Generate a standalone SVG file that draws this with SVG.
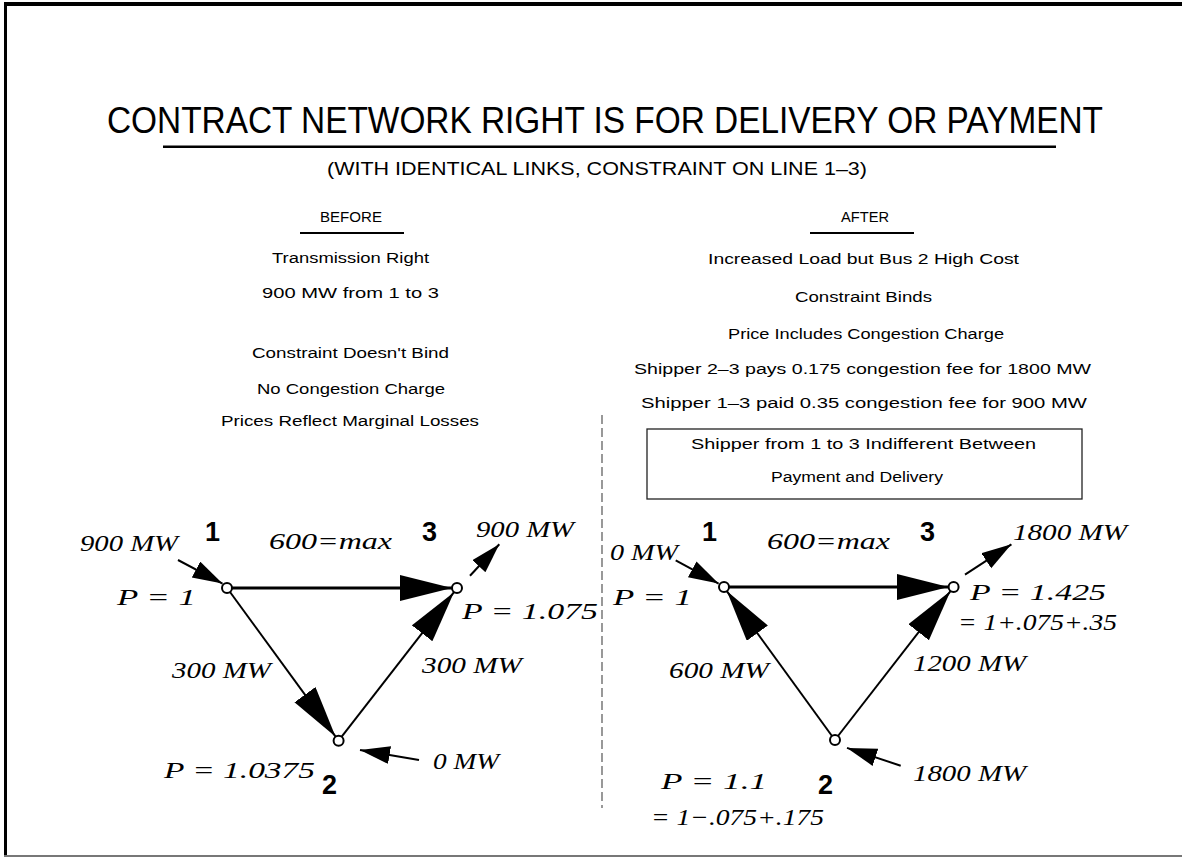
<svg xmlns="http://www.w3.org/2000/svg" width="1182" height="857" viewBox="0 0 1182 857">
<style>
.bg{fill:#fff}
.title{font-family:"Liberation Sans",Arial,sans-serif;font-size:36px;fill:#000}
.sub{font-family:"Liberation Sans",Arial,sans-serif;font-size:19px;fill:#000}
.body{font-family:"Liberation Sans",Arial,sans-serif;font-size:15.5px;fill:#000;text-anchor:start}
.lbl{font-family:"Liberation Serif","Times New Roman",serif;font-style:italic;font-size:23px;fill:#000}
.num{font-family:"Liberation Sans",Arial,sans-serif;font-weight:bold;font-size:27px;fill:#000}
.ln{stroke:#000;stroke-width:2;fill:none}
.thick{stroke:#000;stroke-width:3;fill:none}
.node{fill:#fff;stroke:#000;stroke-width:2}
.dash{stroke:#555;stroke-width:1.2;stroke-dasharray:9 4;fill:none}
</style>
<defs>
<marker id="big" markerUnits="userSpaceOnUse" markerWidth="54" markerHeight="28" refX="52" refY="13" orient="auto">
<path d="M0,0 L52,13 L0,26 Z" fill="#000"/>
</marker>
<marker id="small" markerUnits="userSpaceOnUse" markerWidth="32" markerHeight="20" refX="30" refY="9" orient="auto">
<path d="M0,0 L30,9 L0,18 Z" fill="#000"/>
</marker>
</defs>
<rect class="bg" x="0" y="0" width="1182" height="857"/>
<g id="frame">
<rect x="4" y="2" width="1178" height="4" fill="#000"/>
<rect x="4" y="2" width="3" height="854" fill="#000"/>
<rect x="4" y="855" width="1178" height="2" fill="#777"/>
</g>
<g id="header">
<text class="title" x="107" y="133" textLength="996" lengthAdjust="spacingAndGlyphs">CONTRACT NETWORK RIGHT IS FOR DELIVERY OR PAYMENT</text>
<rect x="163" y="145.5" width="893" height="2.5" fill="#000"/>
<text class="sub" x="327" y="175" textLength="540" lengthAdjust="spacingAndGlyphs">(WITH IDENTICAL LINKS, CONSTRAINT ON LINE 1–3)</text>
</g>
<g id="before-text">
<text class="body" x="320" y="222" textLength="62" lengthAdjust="spacingAndGlyphs">BEFORE</text>
<line class="ln" x1="300" y1="233" x2="404" y2="233" stroke-width="1.2"/>
<text class="body" x="272" y="263" textLength="157" lengthAdjust="spacingAndGlyphs">Transmission Right</text>
<text class="body" x="262" y="298" textLength="177" lengthAdjust="spacingAndGlyphs">900 MW from 1 to 3</text>
<text class="body" x="252" y="358" textLength="197" lengthAdjust="spacingAndGlyphs">Constraint Doesn't Bind</text>
<text class="body" x="257" y="394" textLength="188" lengthAdjust="spacingAndGlyphs">No Congestion Charge</text>
<text class="body" x="221" y="426" textLength="258" lengthAdjust="spacingAndGlyphs">Prices Reflect Marginal Losses</text>
</g>
<g id="after-text">
<text class="body" x="841" y="222" textLength="48" lengthAdjust="spacingAndGlyphs">AFTER</text>
<line class="ln" x1="810" y1="233" x2="914" y2="233" stroke-width="1.2"/>
<text class="body" x="708" y="264" textLength="311" lengthAdjust="spacingAndGlyphs">Increased Load but Bus 2 High Cost</text>
<text class="body" x="795" y="302" textLength="137" lengthAdjust="spacingAndGlyphs">Constraint Binds</text>
<text class="body" x="728" y="339" textLength="276" lengthAdjust="spacingAndGlyphs">Price Includes Congestion Charge</text>
<text class="body" x="634" y="374" textLength="457" lengthAdjust="spacingAndGlyphs">Shipper 2–3 pays 0.175 congestion fee for 1800 MW</text>
<text class="body" x="641" y="408" textLength="446" lengthAdjust="spacingAndGlyphs">Shipper 1–3 paid 0.35 congestion fee for 900 MW</text>
</g>
<g id="note-box">
<rect x="647" y="429" width="435" height="70" fill="none" stroke="#222" stroke-width="1.3"/>
<text class="body" x="691" y="449" textLength="345" lengthAdjust="spacingAndGlyphs">Shipper from 1 to 3 Indifferent Between</text>
<text class="body" x="771" y="482" textLength="172" lengthAdjust="spacingAndGlyphs">Payment and Delivery</text>
</g>
<g id="divider">
<line class="dash" x1="602" y1="415" x2="602" y2="808"/>
</g>
<g id="connectors">
<line class="thick" x1="232" y1="588" x2="452" y2="588" marker-end="url(#big)"/>
<line class="ln" x1="230" y1="592" x2="335.6" y2="736.7" marker-end="url(#big)"/>
<line class="ln" x1="341.7" y1="736.7" x2="454" y2="592.2" marker-end="url(#big)"/>
<line class="ln" x1="178" y1="560" x2="222.5" y2="583.6" marker-end="url(#small)"/>
<line class="ln" x1="470" y1="575.7" x2="499.3" y2="544.3" marker-end="url(#small)"/>
<line class="ln" x1="419" y1="760" x2="360" y2="750" marker-end="url(#small)"/>
<line class="thick" x1="729" y1="587" x2="948.6" y2="587" marker-end="url(#big)"/>
<line class="ln" x1="832" y1="736" x2="726.8" y2="591.1" marker-end="url(#big)"/>
<line class="ln" x1="838" y1="736" x2="950.5" y2="591.1" marker-end="url(#big)"/>
<line class="ln" x1="675.7" y1="560.4" x2="718.6" y2="583.6" marker-end="url(#small)"/>
<line class="ln" x1="965" y1="574.6" x2="1011.4" y2="544.3" marker-end="url(#small)"/>
<line class="ln" x1="900.7" y1="765.7" x2="847" y2="747.9" marker-end="url(#small)"/>
</g>
<g id="before-bus1">
<circle class="node" cx="227" cy="588" r="5"/>
<text class="num" x="205" y="541">1</text>
<text class="lbl" x="80" y="551" textLength="98" lengthAdjust="spacingAndGlyphs">900 MW</text>
<text class="lbl" x="117" y="605" textLength="79" lengthAdjust="spacingAndGlyphs">P = 1</text>
</g>
<g id="before-bus3">
<circle class="node" cx="457" cy="588" r="5"/>
<text class="num" x="422" y="541">3</text>
<text class="lbl" x="476" y="537" textLength="98" lengthAdjust="spacingAndGlyphs">900 MW</text>
<text class="lbl" x="462" y="619" textLength="136" lengthAdjust="spacingAndGlyphs">P = 1.075</text>
</g>
<g id="before-bus2">
<circle class="node" cx="338.6" cy="740.7" r="5"/>
<text class="num" x="322" y="794">2</text>
<text class="lbl" x="164" y="778" textLength="151" lengthAdjust="spacingAndGlyphs">P = 1.0375</text>
<text class="lbl" x="433" y="769" textLength="66" lengthAdjust="spacingAndGlyphs">0 MW</text>
</g>
<g id="before-links">
<text class="lbl" x="269" y="549" textLength="123" lengthAdjust="spacingAndGlyphs">600=max</text>
<text class="lbl" x="172" y="678" textLength="99" lengthAdjust="spacingAndGlyphs">300 MW</text>
<text class="lbl" x="422" y="673" textLength="100" lengthAdjust="spacingAndGlyphs">300 MW</text>
</g>
<g id="after-bus1">
<circle class="node" cx="724" cy="587" r="5"/>
<text class="num" x="702" y="541">1</text>
<text class="lbl" x="610" y="560" textLength="68" lengthAdjust="spacingAndGlyphs">0 MW</text>
<text class="lbl" x="613" y="605" textLength="79" lengthAdjust="spacingAndGlyphs">P = 1</text>
</g>
<g id="after-bus3">
<circle class="node" cx="953.6" cy="587" r="5"/>
<text class="num" x="920" y="541">3</text>
<text class="lbl" x="1013" y="540" textLength="114" lengthAdjust="spacingAndGlyphs">1800 MW</text>
<text class="lbl" x="970" y="600" textLength="136" lengthAdjust="spacingAndGlyphs">P = 1.425</text>
<text class="lbl" x="958" y="630" textLength="159" lengthAdjust="spacingAndGlyphs">= 1+.075+.35</text>
</g>
<g id="after-bus2">
<circle class="node" cx="835" cy="740" r="5"/>
<text class="num" x="818" y="794">2</text>
<text class="lbl" x="913" y="781" textLength="113" lengthAdjust="spacingAndGlyphs">1800 MW</text>
<text class="lbl" x="661" y="789" textLength="106" lengthAdjust="spacingAndGlyphs">P = 1.1</text>
<text class="lbl" x="651" y="825" textLength="173" lengthAdjust="spacingAndGlyphs">= 1−.075+.175</text>
</g>
<g id="after-links">
<text class="lbl" x="767" y="549" textLength="123" lengthAdjust="spacingAndGlyphs">600=max</text>
<text class="lbl" x="669" y="678" textLength="100" lengthAdjust="spacingAndGlyphs">600 MW</text>
<text class="lbl" x="913" y="671" textLength="113" lengthAdjust="spacingAndGlyphs">1200 MW</text>
</g>
</svg>
